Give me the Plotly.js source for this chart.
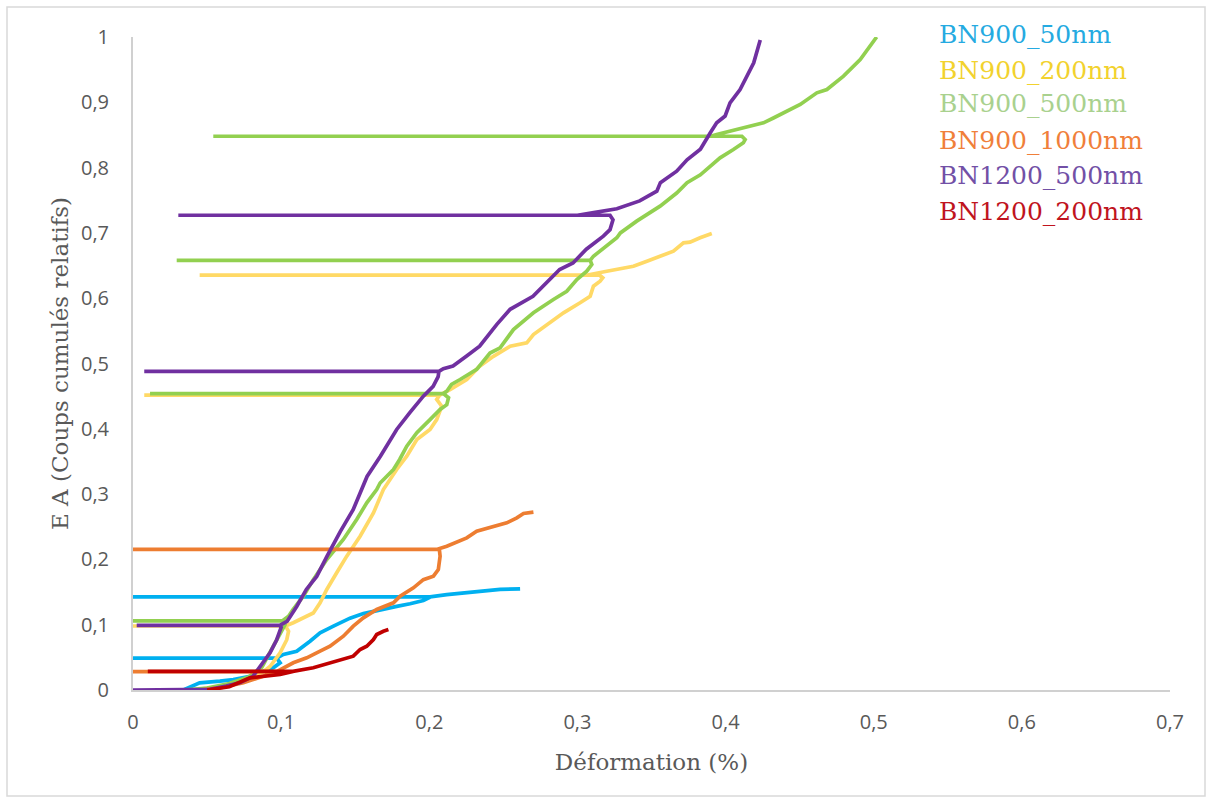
<!DOCTYPE html>
<html>
<head>
<meta charset="utf-8">
<script src="https://cdn.plot.ly/plotly-3.0.1.min.js"></script>
<style>
  html, body { margin: 0; padding: 0; background: #ffffff; }
  #chart { width: 1212px; height: 802px; }
</style>
</head>
<body>
<div id="chart"></div>
<script>
// ---- Series names ----
const seriesNames = ["BN900_50nm", "BN900_200nm", "BN900_500nm", "BN900_1000nm", "BN1200_500nm", "BN1200_200nm"];

// ---- BN900_50nm ----
const x50 = [0.034,0.045,0.0587,0.0677,0.079,0.088,0.0947,0.0993,0.097,0.0,0.097,0.1015,0.1105,0.1195,0.1263,0.1353,0.1465,0.1555,0.1668,0.178,0.187,0.196,0.201,0.0,0.2005,0.2118,0.2253,0.2388,0.2478,0.2613];
const y50 = [0.0,0.011,0.0135,0.016,0.021,0.029,0.034,0.0417,0.0487,0.0487,0.0487,0.0544,0.0594,0.0747,0.0876,0.0977,0.11,0.117,0.123,0.128,0.132,0.137,0.1427,0.1427,0.1427,0.146,0.1488,0.1513,0.154,0.155];

// ---- BN900_200nm ----
const x200 = [0.04,0.055,0.07,0.08,0.088,0.0925,0.0993,0.1038,0.105,0.103,0.0,0.103,0.1082,0.115,0.1217,0.1263,0.1308,0.1375,0.1443,0.1533,0.1623,0.169,0.178,0.1848,0.1916,0.2005,0.205,0.2084,0.205,0.207,0.0076,0.207,0.214,0.2253,0.234,0.2433,0.2546,0.2658,0.2703,0.2816,0.2906,0.3018,0.3086,0.3108,0.3153,0.3171,0.315,0.045,0.306,0.3198,0.3378,0.3469,0.358,0.3648,0.3716,0.376,0.3828,0.3907];
const y200 = [0.0,0.004,0.01,0.018,0.028,0.036,0.057,0.077,0.09,0.098,0.098,0.098,0.103,0.1105,0.118,0.1335,0.154,0.1795,0.205,0.2355,0.271,0.307,0.3377,0.358,0.3836,0.399,0.414,0.4346,0.445,0.4515,0.4515,0.4515,0.46,0.4755,0.4958,0.511,0.5265,0.5317,0.5444,0.5623,0.5776,0.593,0.603,0.6184,0.626,0.6313,0.6352,0.6352,0.6352,0.6413,0.649,0.6567,0.667,0.672,0.6848,0.6858,0.6925,0.699];

// ---- BN900_500nm ----
const x500 = [0.035,0.05,0.065,0.078,0.087,0.0947,0.099,0.1026,0.101,0.0,0.101,0.105,0.108,0.115,0.1217,0.1308,0.142,0.151,0.1578,0.1645,0.1668,0.1758,0.18,0.1848,0.1916,0.2005,0.2073,0.2118,0.213,0.2095,0.0115,0.2095,0.2118,0.215,0.2208,0.232,0.241,0.2478,0.2568,0.2703,0.2838,0.2928,0.2996,0.3063,0.3097,0.3086,0.0295,0.3086,0.3108,0.3198,0.3266,0.329,0.34,0.3558,0.367,0.374,0.383,0.3896,0.3963,0.4053,0.412,0.4132,0.411,0.0542,0.39,0.394,0.4053,0.4188,0.4256,0.4323,0.4414,0.4504,0.4616,0.4684,0.4796,0.4909,0.502];
const y500 = [0.0,0.003,0.01,0.02,0.035,0.067,0.085,0.1,0.106,0.106,0.106,0.113,0.123,0.1437,0.169,0.1998,0.2305,0.261,0.2867,0.307,0.317,0.3377,0.353,0.3733,0.394,0.414,0.4296,0.437,0.4475,0.454,0.454,0.454,0.4576,0.468,0.4755,0.491,0.516,0.524,0.552,0.5776,0.598,0.6107,0.6286,0.6413,0.6516,0.658,0.658,0.658,0.6643,0.6796,0.6925,0.7,0.718,0.741,0.761,0.777,0.789,0.802,0.815,0.8277,0.838,0.843,0.848,0.848,0.848,0.8507,0.857,0.8634,0.8686,0.876,0.8864,0.8966,0.9145,0.9196,0.94,0.9655,1.0];

// ---- BN900_1000nm ----
const x1000 = [0.045,0.06,0.0745,0.088,0.094,0.097,0.0,0.097,0.1082,0.1173,0.1263,0.133,0.142,0.1487,0.1555,0.1645,0.1758,0.1803,0.1893,0.196,0.2028,0.2061,0.2073,0.2068,0.0,0.205,0.2118,0.2208,0.2253,0.232,0.2433,0.2523,0.2591,0.2636,0.2703];
const y1000 = [0.0,0.004,0.011,0.021,0.026,0.028,0.028,0.028,0.0417,0.0493,0.0594,0.067,0.0824,0.0977,0.1105,0.1233,0.1335,0.1436,0.1565,0.169,0.1743,0.1845,0.205,0.2152,0.2152,0.2152,0.2202,0.2294,0.233,0.243,0.2508,0.256,0.2637,0.2703,0.2723];

// ---- BN1200_500nm ----
const x1200_500 = [0.0,0.045,0.052,0.063,0.072,0.081,0.086,0.0925,0.097,0.1,0.099,0.0025,0.099,0.104,0.1105,0.117,0.124,0.131,0.14,0.1486,0.158,0.167,0.178,0.187,0.196,0.2026,0.206,0.2065,0.0076,0.2065,0.2095,0.216,0.225,0.234,0.2456,0.2546,0.27,0.279,0.288,0.297,0.306,0.3175,0.322,0.324,0.322,0.0306,0.3,0.311,0.3266,0.342,0.3536,0.356,0.367,0.374,0.383,0.3896,0.394,0.3997,0.403,0.4098,0.4144,0.419,0.4234];
const y1200_500 = [0.0,0.0,0.001,0.006,0.011,0.021,0.036,0.057,0.077,0.096,0.099,0.099,0.099,0.105,0.128,0.154,0.174,0.205,0.243,0.276,0.327,0.358,0.399,0.425,0.45,0.465,0.48,0.488,0.488,0.488,0.492,0.496,0.511,0.5265,0.56,0.583,0.603,0.624,0.644,0.654,0.675,0.695,0.705,0.72,0.727,0.727,0.727,0.731,0.737,0.749,0.764,0.777,0.7945,0.812,0.828,0.853,0.8686,0.879,0.899,0.9196,0.94,0.9605,0.9954];

// ---- BN1200_200nm ----
const x1200_200 = [0.05,0.065,0.079,0.0993,0.108,0.01,0.108,0.1217,0.133,0.142,0.1487,0.1533,0.1578,0.1623,0.1645,0.169,0.1724];
const y1200_200 = [0.0,0.005,0.0187,0.0237,0.0285,0.0285,0.0285,0.034,0.0417,0.0467,0.0518,0.062,0.067,0.0773,0.085,0.09,0.0926];

// ---- Axis ticks ----
const xTickVals = [0, 0.1, 0.2, 0.3, 0.4, 0.5, 0.6, 0.7];
const xTickText = ["0", "0,1", "0,2", "0,3", "0,4", "0,5", "0,6", "0,7"];
const yTickVals = [0, 0.1, 0.2, 0.3, 0.4, 0.5, 0.6, 0.7, 0.8, 0.9, 1];
const yTickText = ["0", "0,1", "0,2", "0,3", "0,4", "0,5", "0,6", "0,7", "0,8", "0,9", "1"];

// ---- Styles ----
const lineColors = ["#00B0F0", "#FFD966", "#92D050", "#ED7D31", "#7030A0", "#C00000"];
const legendColors = ["#25AAE1", "#F2D22E", "#A9D18E", "#F07F3A", "#7250A6", "#C0141E"];
const serifFont = "'DejaVu Serif', 'Liberation Serif', serif";

const xs = [x50, x200, x500, x1000, x1200_500, x1200_200];
const ys = [y50, y200, y500, y1000, y1200_500, y1200_200];

const traces = seriesNames.map((name, i) => ({
  type: "scatter",
  mode: "lines",
  name: name,
  x: xs[i],
  y: ys[i],
  line: { color: lineColors[i], width: 3.7, shape: "linear" },
  showlegend: false,
  hoverinfo: "skip"
}));

// legend rendered as coloured text (no symbols)
const plotTop = 37, plotBottom = 690, plotLeft = 133, plotRight = 1170;
const legendRowsPx = [35, 70, 104, 140, 176, 211];
const legendAnn = seriesNames.map((name, i) => ({
  xref: "paper", yref: "paper",
  x: (937 - plotLeft) / (plotRight - plotLeft),
  y: (plotBottom - legendRowsPx[i]) / (plotBottom - plotTop),
  xanchor: "left", yanchor: "middle",
  text: name, showarrow: false,
  font: { family: serifFont, size: 25, color: legendColors[i] }
}));

const layout = {
  width: 1212,
  height: 802,
  margin: { l: 133, r: 42, t: 37, b: 112, pad: 0 },
  paper_bgcolor: "#ffffff",
  plot_bgcolor: "#ffffff",
  showlegend: false,
  xaxis: {
    range: [0, 0.7],
    tickvals: xTickVals,
    ticktext: xTickText,
    showgrid: false,
    zeroline: false,
    showline: true,
    linecolor: "#d0d0d0",
    linewidth: 2,
    ticks: "",
    ticklabelstandoff: 13,
    tickfont: { family: "Open Sans", size: 20, color: "#595959" },
    title: { text: "Déformation (%)", standoff: 20, font: { family: serifFont, size: 23, color: "#595959" } },
    fixedrange: true
  },
  yaxis: {
    range: [0, 1],
    tickvals: yTickVals,
    ticktext: yTickText,
    showgrid: false,
    zeroline: false,
    showline: true,
    linecolor: "#d0d0d0",
    linewidth: 2,
    ticks: "",
    ticklabelstandoff: 18,
    tickfont: { family: "Open Sans", size: 20, color: "#595959" },
    title: { text: "E A (Coups cumulés relatifs)", standoff: 6, font: { family: serifFont, size: 23, color: "#595959" } },
    fixedrange: true
  },
  annotations: legendAnn,
  shapes: [{
    type: "rect", xref: "paper", yref: "paper",
    x0: (7 - plotLeft) / (plotRight - plotLeft),
    x1: (1205 - plotLeft) / (plotRight - plotLeft),
    y0: (plotBottom - 796) / (plotBottom - plotTop),
    y1: (plotBottom - 7) / (plotBottom - plotTop),
    line: { color: "#d9d9d9", width: 1.5 },
    fillcolor: "rgba(0,0,0,0)",
    layer: "below"
  }]
};

Plotly.newPlot("chart", traces, layout, { displayModeBar: false, staticPlot: true });
</script>
</body>
</html>
